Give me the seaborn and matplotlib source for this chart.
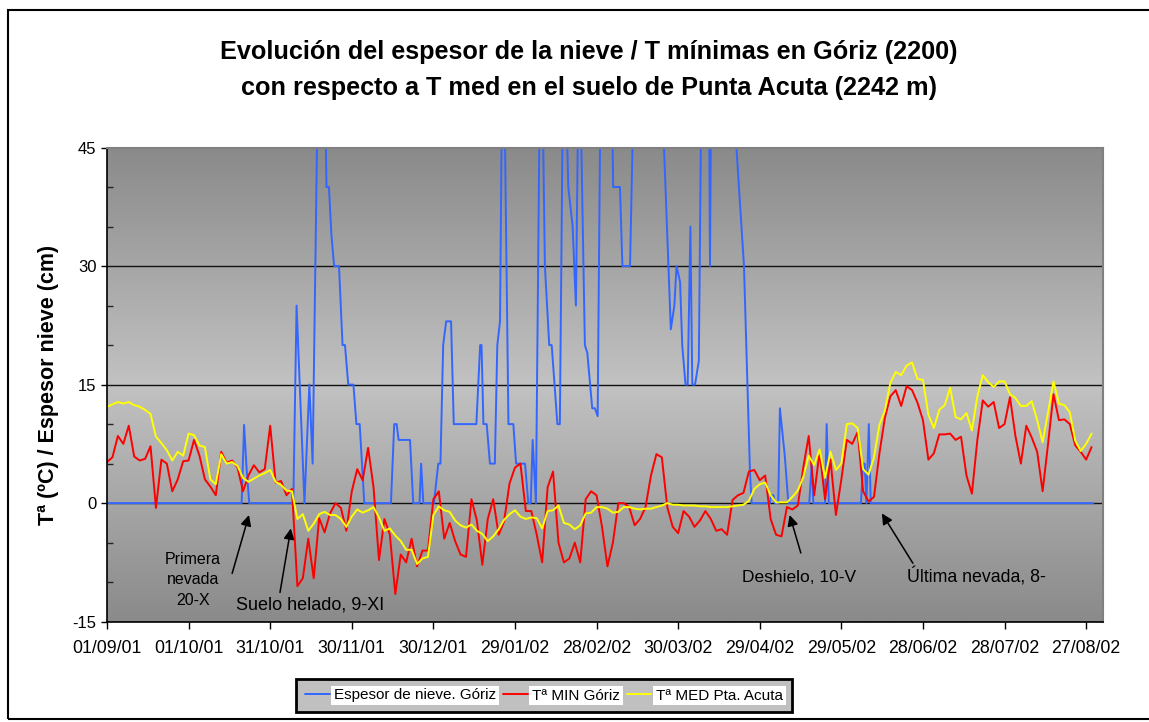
import numpy as np
import pandas as pd
import matplotlib
matplotlib.use("Agg")
import matplotlib.pyplot as plt
import matplotlib.dates as mdates
from matplotlib.ticker import MultipleLocator
from matplotlib.colors import LinearSegmentedColormap
from matplotlib.lines import Line2D
from matplotlib.patches import Rectangle
import seaborn as sns

START = pd.Timestamp("2001-09-01")

LBL_SNOW = "Espesor de nieve. Góriz"
LBL_MIN = "Tª MIN Góriz"
LBL_MED = "Tª MED Pta. Acuta"
COLORS = {LBL_SNOW: "#3366FF", LBL_MIN: "#FF0000", LBL_MED: "#FFFF00"}

# temperatures read every 2 days from 01/09/01
temp_days = list(range(0, 364, 2))
t_med = [12.2, 12.5, 12.8, 12.6, 12.8, 12.4, 12.2, 11.8, 11.3, 8.4,
         7.6, 6.7, 5.4, 6.5, 6.0, 8.8, 8.6, 7.3, 7.1, 3.0,
         2.4, 6.2, 5.0, 5.2, 4.7, 3.2, 2.7, 3.1, 3.5, 3.8,
         4.2, 2.7, 2.3, 1.6, 1.5, -2.0, -1.4, -3.5, -2.6, -1.4,
         -1.1, -1.5, -1.5, -2.0, -3.0, -1.7, -0.8, -1.2, -0.9, -0.5,
         -1.8, -3.5, -3.2, -4.1, -4.8, -5.9, -5.9, -7.7, -7.0, -6.8,
         -1.5, -0.4, -0.9, -1.1, -2.2, -2.8, -3.1, -2.7, -3.5, -3.9,
         -4.8, -4.2, -3.3, -2.1, -1.4, -0.9, -1.7, -2.0, -1.8, -1.9,
         -3.2, -1.0, -0.9, -0.3, -2.5, -2.7, -3.3, -2.8, -1.3, -1.2,
         -0.5, -0.5, -0.7, -1.2, -1.1, -0.5, -0.5, -0.7, -0.8, -0.7,
         -0.7, -0.5, -0.3, 0.0, -0.2, -0.2, -0.3, -0.3, -0.3, -0.4,
         -0.4, -0.5, -0.5, -0.5, -0.5, -0.4, -0.3, -0.2, 0.3, 1.8,
         2.4, 2.6, 1.0, 0.1, 0.1, 0.1, 0.8, 1.6, 3.3, 6.0,
         4.8, 6.8, 3.2, 6.5, 4.2, 5.0, 10.0, 10.1, 9.5, 4.3,
         3.6, 5.8, 9.9, 11.7, 15.2, 16.6, 16.2, 17.4, 17.8, 15.7,
         15.6, 11.2, 9.5, 11.8, 12.4, 14.6, 10.9, 10.6, 11.4, 9.2,
         13.5, 16.2, 15.3, 14.7, 15.4, 15.4, 13.8, 13.3, 12.3, 12.3,
         12.9, 10.5, 7.7, 11.5, 15.4, 12.6, 12.4, 11.5, 7.9, 6.6,
         7.5, 8.8]
t_min = [5.2, 5.8, 8.5, 7.5, 9.8, 5.9, 5.4, 5.6, 7.2, -0.6,
         5.5, 5.0, 1.5, 3.0, 5.3, 5.4, 8.0, 6.0, 3.0, 2.1,
         1.0, 6.5, 5.1, 5.4, 4.5, 1.5, 3.5, 4.8, 3.9, 4.3,
         9.8, 2.6, 2.8, 1.0, 1.8, -10.5, -9.5, -4.5, -9.5, -1.9,
         -3.7, -1.3, 0.0, -0.6, -3.5, 1.5, 4.3, 2.9, 7.0, 2.0,
         -7.2, -2.0, -4.0, -11.5, -6.5, -7.5, -4.5, -8.0, -6.0, -6.0,
         0.5, 1.5, -4.5, -2.5, -4.8, -6.5, -6.8, 0.5, -2.2, -7.8,
         -2.0, 0.5, -4.0, -2.3, 2.5, 4.5, 5.0, -1.0, -1.0, -4.0,
         -7.5, 2.0, 4.0, -5.0, -7.5, -7.0, -5.0, -7.5, 0.5, 1.5,
         1.0, -3.0, -8.0, -5.0, 0.0, 0.0, -0.5, -2.8, -2.0, -0.5,
         3.5, 6.2, 5.8, -0.5, -3.0, -3.8, -1.0, -1.7, -3.0, -2.2,
         -1.0, -2.0, -3.5, -3.3, -4.0, 0.4, 1.0, 1.3, 4.0, 4.2,
         2.9, 3.5, -2.0, -4.0, -4.2, -0.5, -0.8, -0.3, 4.5, 8.5,
         1.0, 6.5, 0.5, 5.5, -1.5, 3.0, 8.0, 7.5, 9.0, 1.5,
         0.2, 0.8, 6.3, 10.8, 13.5, 14.3, 12.3, 14.8, 14.3, 12.7,
         10.5, 5.5, 6.3, 8.7, 8.7, 8.8, 8.0, 8.4, 3.5, 1.2,
         8.0, 13.0, 12.2, 12.8, 9.5, 10.0, 13.4, 8.5, 5.0, 9.8,
         8.3, 6.5, 1.5, 7.5, 13.8, 10.5, 10.6, 10.0, 7.3, 6.5,
         5.5, 7.1]

# snow thickness (cm): days after 01/09/01 and value, runs above the 45 cm axis top
snow_days = [0, 49.5, 50.4, 51.3, 52.3, 68.5, 69.7, 71.2, 72.6, 74.4, 75.6, 77.6, 80.0, 80.7,
             81.6, 82.5, 83.5, 85.3, 86.6, 87.5, 88.7, 90.6, 91.7, 92.9, 94.6, 104.4, 105.6,
             106.5, 107.2, 111.4, 112.6, 114.9, 115.5, 116.3, 120.2, 121.8, 122.6, 123.6,
             124.7, 126.5, 127.5, 135.8, 137.2, 137.7, 138.4, 139.6, 140.8, 142.6, 143.5,
             144.5, 145.3, 146.0, 147.6, 149.4, 150.4, 153.7, 154.9, 155.8, 156.5, 157.7,
             159.2, 160.0, 161.0, 162.6, 163.5, 165.6, 166.5, 167.7, 168.5, 169.6, 171.2,
             172.4, 173.4, 173.9, 175.7, 176.6, 178.4, 179.4, 180.4, 181.5, 185.5, 186.1,
             188.6, 189.5, 192.3, 193.8, 203.7, 206.4, 207.3, 208.6, 209.4, 210.7, 211.5,
             212.7, 213.5, 214.5, 215.2, 216.2, 217.6, 218.6, 221.3, 221.7, 222.2, 230.5,
             234.2, 236.4, 237.0, 243.7, 244.2, 245.0, 245.6, 246.8, 247.4, 249.2, 250.5,
             258.2, 259.1, 259.7, 264.0, 264.6, 265.4, 277.2, 278.0, 278.6, 279.2, 280.1,
             280.8, 362.6]
snow_cm = [0, 0, 9.9, 4.5, 0, 0, 25, 12, 0, 15, 5, 55, 55, 40,
           40, 34, 30, 30, 20, 20, 15, 15, 10, 10, 0, 0, 10,
           10, 8, 8, 0, 0, 5, 0, 0, 5, 5, 20,
           23, 23, 10, 10, 20, 20, 10, 10, 5, 5, 20,
           23, 55, 55, 10, 10, 5, 5, 0, 0, 8, 0,
           55, 55, 30, 20, 20, 10, 10, 55, 55, 40, 35,
           25, 55, 55, 20, 19, 12, 12, 11, 55, 55, 40,
           40, 30, 30, 55, 55, 30, 22, 25, 30, 28, 20,
           15, 15, 35, 15, 15, 18, 55, 55, 30, 55, 50,
           30, 4, 0, 0, 1, 1, 0, 0, 12, 6, 0,
           0, 5, 0, 0, 10, 0, 0, 5, 5, 0, 10,
           0, 0]

temp_dates = START + pd.to_timedelta(temp_days, unit="D")
snow_dates = START + pd.to_timedelta(snow_days, unit="D")
df = pd.concat([
    pd.DataFrame({"fecha": snow_dates, "valor": snow_cm, "serie": LBL_SNOW}),
    pd.DataFrame({"fecha": temp_dates, "valor": t_min, "serie": LBL_MIN}),
    pd.DataFrame({"fecha": temp_dates, "valor": t_med, "serie": LBL_MED}),
], ignore_index=True)

sns.set_style("white")
plt.rcParams["font.family"] = ["Liberation Sans", "DejaVu Sans"]
plt.rcParams["text.color"] = "black"
plt.rcParams["axes.labelcolor"] = "black"
plt.rcParams["axes.unicode_minus"] = False

W, H = 1149, 722
fig = plt.figure(figsize=(W / 100, H / 100), dpi=100, facecolor="white")
pos = [107 / W, 1 - 621.7 / H, (1103 - 107) / W, (621.7 - 147.5) / H]

# gradient plot area (dark at edges, light in the middle)
bg = fig.add_axes(pos, zorder=0)
grad = LinearSegmentedColormap.from_list("g", ["#8a8a8a", "#c2c2c2", "#8a8a8a"])
bg.imshow(np.linspace(0, 1, 256).reshape(-1, 1), cmap=grad, aspect="auto", extent=[0, 1, 0, 1])
bg.axis("off")

ax = fig.add_axes(pos, zorder=1)
ax.patch.set_alpha(0)
sns.lineplot(data=df, x="fecha", y="valor", hue="serie", hue_order=[LBL_SNOW, LBL_MIN, LBL_MED],
             palette=COLORS, estimator=None, sort=False, linewidth=1.4, legend=False, ax=ax)

ax.set_xlim(START, START + pd.Timedelta(days=366.2))
ax.set_ylim(-15, 45)
ax.set_yticks([-15, 0, 15, 30, 45])
ax.yaxis.set_minor_locator(MultipleLocator(5))
ax.set_xticks(pd.date_range(START, periods=13, freq="30D"))
ax.xaxis.set_major_formatter(mdates.DateFormatter("%d/%m/%y"))
ax.tick_params(axis="x", which="major", direction="out", length=5, width=1, labelsize=12.8, pad=8,
               colors="black")
ax.tick_params(axis="y", which="major", direction="out", length=4, width=1, labelsize=12,
               colors="black")
ax.tick_params(axis="y", which="minor", direction="in", length=4, width=1, left=True)
ax.tick_params(bottom=True, left=True)
ax.yaxis.grid(True, which="major", color="#111111", linewidth=1)
ax.get_ygridlines()[-1].set_visible(False)
ax.set_axisbelow(True)
ax.set_xlabel("")
ax.set_ylabel("Tª (ºC) / Espesor nieve (cm)", fontsize=15.5, fontweight="bold", labelpad=10)
for side in ["left", "bottom"]:
    ax.spines[side].set_color("black")
    ax.spines[side].set_linewidth(1.2)
for side in ["top", "right"]:
    ax.spines[side].set_color("#808080")
    ax.spines[side].set_linewidth(1.5)


def day(n):
    return START + pd.Timedelta(days=n)


arrow = dict(arrowstyle="-|>", color="black", lw=1.1, mutation_scale=16, shrinkA=0, shrinkB=0)
ax.annotate("", xy=(day(52.2), -1.5), xytext=(day(46), -8.9), arrowprops=arrow)
ax.annotate("", xy=(day(67.6), -3.2), xytext=(day(63.6), -11.3), arrowprops=arrow)
ax.annotate("", xy=(day(251), -1.5), xytext=(day(255.1), -6.3), arrowprops=arrow)
ax.annotate("", xy=(day(284.9), -1.3), xytext=(day(296.3), -7.6), arrowprops=arrow)
ax.text(day(31.6), -9.7, "Primera\nnevada\n20-X", ha="center", va="center", fontsize=11.5,
        linespacing=1.45)
ax.text(day(74.6), -12.9, "Suelo helado, 9-XI", ha="center", va="center", fontsize=13)
ax.text(day(254.4), -9.4, "Deshielo, 10-V", ha="center", va="center", fontsize=12.5)
ax.text(day(294.1), -9.4, "Última nevada, 8-", ha="left", va="center", fontsize=12.8)

fig.text(589 / W, 1 - 70 / H,
         "Evolución del espesor de la nieve / T mínimas en Góriz (2200)\n"
         "con respecto a T med en el suelo de Punta Acuta (2242 m)",
         ha="center", va="center", fontsize=18.2, fontweight="bold", linespacing=1.6)

handles = [Line2D([], [], color=COLORS[k], lw=1.4) for k in [LBL_SNOW, LBL_MIN, LBL_MED]]
leg = fig.legend(handles, [LBL_SNOW, LBL_MIN, LBL_MED], loc="center", ncol=3,
                 bbox_to_anchor=(544 / W, 1 - 695.5 / H), fontsize=11, frameon=True,
                 facecolor="#c0c0c0", edgecolor="black", fancybox=False, framealpha=1,
                 handlelength=1.6, handletextpad=0.3, columnspacing=0.45,
                 borderpad=0.6, borderaxespad=0)
leg.get_frame().set_linewidth(2)
for t in leg.get_texts():
    t.set_bbox(dict(facecolor="white", edgecolor="none", pad=2))

fig.patches.append(Rectangle((8 / W, 1 - 719 / H), 1.2, (719 - 10) / H, transform=fig.transFigure,
                             fill=False, edgecolor="black", linewidth=1.5))

fig.savefig("out.png", dpi=100, facecolor="white")
